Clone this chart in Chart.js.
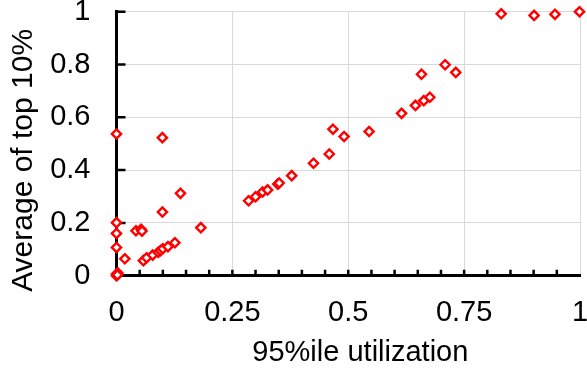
<!DOCTYPE html>
<html>
<head>
<meta charset="utf-8">
<script src="https://cdn.jsdelivr.net/npm/chart.js@4/dist/chart.umd.min.js"></script>
<style>
  html, body { margin: 0; padding: 0; background: #fff; }
  #wrap { width: 587px; height: 371px; }
</style>
</head>
<body>
<div id="wrap"><canvas id="chart"></canvas></div>
<script>
// 95%ile utilization (x) vs average of top 10% (y)
const utilization95 = [
  0, 0, 0.003, 0.002, 0, 0, 0, 0,
  0.018, 0.042, 0.053, 0.055,
  0.058, 0.065, 0.078, 0.090, 0.095, 0.100, 0.111, 0.126,
  0.099, 0.099, 0.138, 0.182,
  0.285, 0.300, 0.315, 0.326, 0.348, 0.351, 0.378,
  0.425, 0.459, 0.467, 0.491, 0.545,
  0.615, 0.645, 0.663, 0.676, 0.658, 0.709, 0.732,
  0.830, 0.901, 0.946, 0.999
];
const top10Average = [
  0, 0.006, 0.01, 0.003, 0.107, 0.160, 0.201, 0.537,
  0.064, 0.170, 0.176, 0.169,
  0.057, 0.068, 0.078, 0.089, 0.095, 0.102, 0.110, 0.125,
  0.523, 0.241, 0.312, 0.182,
  0.284, 0.299, 0.317, 0.325, 0.347, 0.351, 0.379,
  0.426, 0.461, 0.555, 0.527, 0.546,
  0.615, 0.645, 0.663, 0.676, 0.763, 0.799, 0.770,
  0.992, 0.986, 0.990, 1.0
];
const xTicks = [0, 0.25, 0.5, 0.75, 1];
const yTicks = [0, 0.2, 0.4, 0.6, 0.8, 1];
const xMinorTicks = [0.05, 0.1, 0.15, 0.2, 0.25, 0.3, 0.35, 0.4, 0.45, 0.5,
  0.55, 0.6, 0.65, 0.7, 0.75, 0.8, 0.85, 0.9, 0.95];

const points = utilization95.map((x, i) => ({ x: x, y: top10Average[i] }));
const font = 'Liberation Sans, Arial, sans-serif';

// tick marks drawn inside the plot area
const innerTicks = {
  id: 'innerTicks',
  beforeDatasetsDraw(chart) {
    const ctx = chart.ctx;
    const xs = chart.scales.x, ys = chart.scales.y;
    const area = chart.chartArea;
    ctx.save();
    ctx.strokeStyle = '#000';
    ctx.lineWidth = 2.5;
    ctx.beginPath();
    xMinorTicks.forEach(v => {
      const px = xs.getPixelForValue(v);
      ctx.moveTo(px, area.bottom);
      ctx.lineTo(px, area.bottom - 6);
    });
    yTicks.slice(1).forEach(v => {
      const py = ys.getPixelForValue(v);
      ctx.moveTo(area.left, py);
      ctx.lineTo(area.left + 9, py);
    });
    ctx.stroke();
    ctx.restore();
  }
};

new Chart(document.getElementById('chart'), {
  type: 'scatter',
  data: {
    datasets: [{
      data: points,
      pointStyle: 'rectRot',
      radius: 4.6,
      hoverRadius: 4.6,
      borderWidth: 2.4,
      borderColor: '#ff0000',
      backgroundColor: '#ffffff',
      clip: false
    }]
  },
  options: {
    responsive: true,
    maintainAspectRatio: false,
    animation: false,
    layout: { padding: { top: 11.7, right: 5, left: 0, bottom: 0 } },
    plugins: { legend: { display: false }, tooltip: { enabled: false } },
    scales: {
      x: {
        type: 'linear',
        min: 0, max: 1,
        afterBuildTicks: s => { s.ticks = xTicks.map(v => ({ value: v })); },
        afterFit: s => { s.height = 95.3; s.paddingLeft = 0; s.paddingRight = 0; },
        ticks: {
          color: '#000',
          font: { family: font, size: 29 },
          padding: 20,
          maxRotation: 0,
          callback: v => String(v)
        },
        grid: { color: '#d9d9d9', lineWidth: 1, drawTicks: false },
        border: { color: '#000', width: 3 },
        title: {
          display: true,
          // leading spaces nudge the title right, as in the original
          text: '   95%ile utilization',
          color: '#000',
          font: { family: font, size: 29 },
          padding: { top: 0, bottom: 1 }
        }
      },
      y: {
        type: 'linear',
        min: 0, max: 1,
        afterBuildTicks: s => { s.ticks = yTicks.map(v => ({ value: v })); },
        afterFit: s => { s.width = 116.5; s.paddingTop = 0; s.paddingBottom = 0; },
        ticks: {
          color: '#000',
          font: { family: font, size: 29 },
          padding: 26,
          callback: v => String(v)
        },
        grid: { color: '#d9d9d9', lineWidth: 1, drawTicks: false },
        border: { color: '#000', width: 3 },
        title: {
          display: true,
          // trailing spaces push the title down a little
          text: 'Average of top 10%    ',
          color: '#000',
          font: { family: font, size: 30 },
          padding: { top: 6, bottom: 0 }
        }
      }
    }
  },
  plugins: [innerTicks]
});
</script>
</body>
</html>
